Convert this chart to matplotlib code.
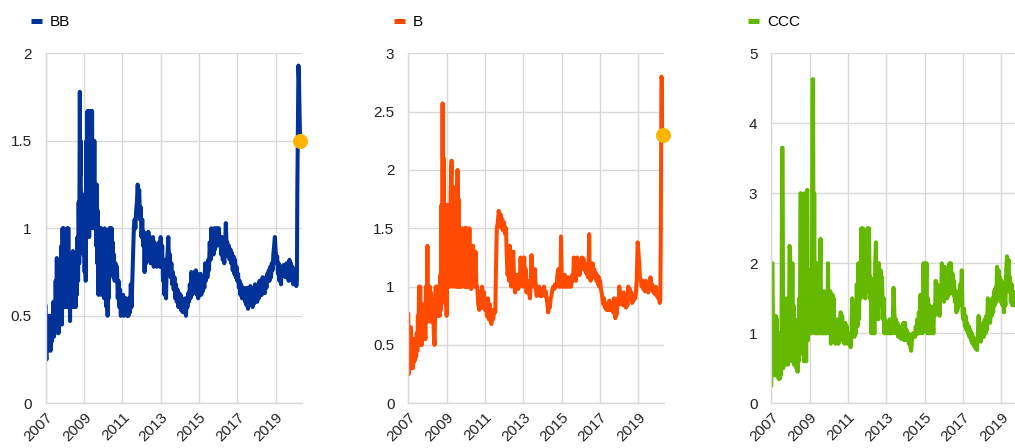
import matplotlib
matplotlib.use("Agg")
import matplotlib.pyplot as plt
from matplotlib.lines import Line2D
from matplotlib.ticker import FuncFormatter

plt.rcParams['font.family'] = ['Liberation Sans', 'DejaVu Sans']
plt.rcParams['font.size'] = 11

# colours (ECB palette)
cs = {"BB": "#003299", "B": "#FF4B00", "CCC": "#65B800"}
dot_c = "#FFB400"

# (decimal year, value)
bb = [
    (2007.00, 0.56), (2007.02, 0.28), (2007.04, 0.25), (2007.06, 0.50), (2007.08, 0.32),
    (2007.10, 0.45), (2007.12, 0.30), (2007.14, 0.50), (2007.16, 0.35), (2007.18, 0.50),
    (2007.20, 0.38), (2007.22, 0.48), (2007.25, 0.30), (2007.28, 0.50), (2007.31, 0.35),
    (2007.34, 0.50), (2007.37, 0.40), (2007.40, 0.58), (2007.43, 0.38), (2007.46, 0.55),
    (2007.49, 0.40), (2007.52, 0.70), (2007.55, 0.45), (2007.58, 0.83), (2007.61, 0.45),
    (2007.64, 0.70), (2007.67, 0.40), (2007.70, 0.60), (2007.73, 0.45), (2007.76, 0.75),
    (2007.79, 0.50), (2007.82, 0.90), (2007.85, 0.45), (2007.88, 1.00), (2007.91, 0.55),
    (2007.94, 1.00), (2007.97, 0.60), (2008.00, 0.85), (2008.03, 0.55), (2008.06, 0.80),
    (2008.09, 0.60), (2008.12, 1.00), (2008.15, 0.55), (2008.18, 1.00), (2008.21, 0.60),
    (2008.24, 0.85), (2008.27, 0.47), (2008.30, 0.80), (2008.33, 0.55), (2008.36, 0.75),
    (2008.39, 0.60), (2008.42, 0.87), (2008.45, 0.55), (2008.48, 0.85), (2008.51, 0.60),
    (2008.54, 0.80), (2008.57, 0.55), (2008.60, 0.85), (2008.63, 0.62), (2008.66, 0.95),
    (2008.69, 0.70), (2008.72, 1.15), (2008.75, 0.80), (2008.78, 1.78), (2008.80, 1.30),
    (2008.82, 1.50), (2008.85, 0.95), (2008.88, 1.20), (2008.91, 0.90), (2008.94, 1.15),
    (2008.97, 0.85), (2009.00, 1.10), (2009.03, 0.75), (2009.06, 1.00), (2009.09, 0.70),
    (2009.12, 1.50), (2009.15, 1.00), (2009.18, 1.67), (2009.21, 1.10), (2009.24, 1.67),
    (2009.27, 0.95), (2009.30, 1.60), (2009.33, 1.00), (2009.36, 1.67), (2009.39, 1.10),
    (2009.42, 1.67), (2009.45, 1.00), (2009.48, 1.50), (2009.51, 1.05), (2009.54, 1.50),
    (2009.57, 1.00), (2009.60, 1.25), (2009.63, 0.90), (2009.66, 1.25), (2009.69, 0.80),
    (2009.72, 1.10), (2009.75, 0.62), (2009.78, 0.95), (2009.81, 0.65), (2009.84, 1.00),
    (2009.87, 0.62), (2009.90, 1.00), (2009.93, 0.70), (2009.96, 0.95), (2009.99, 0.62),
    (2010.02, 0.90), (2010.05, 0.60), (2010.08, 1.00), (2010.11, 0.70), (2010.14, 0.90),
    (2010.17, 0.55), (2010.20, 0.80), (2010.23, 0.50), (2010.26, 0.75), (2010.29, 0.60),
    (2010.32, 1.00), (2010.35, 0.75), (2010.38, 1.00), (2010.41, 0.80), (2010.44, 1.00),
    (2010.47, 0.75), (2010.50, 0.92), (2010.53, 0.72), (2010.56, 0.85), (2010.60, 0.70),
    (2010.64, 0.80), (2010.68, 0.72), (2010.72, 0.78), (2010.76, 0.60), (2010.80, 0.70),
    (2010.84, 0.55), (2010.88, 0.65), (2010.92, 0.50), (2010.96, 0.62), (2011.00, 0.55),
    (2011.04, 0.62), (2011.08, 0.50), (2011.12, 0.60), (2011.16, 0.52), (2011.20, 0.60),
    (2011.24, 0.50), (2011.28, 0.58), (2011.32, 0.50), (2011.36, 0.60), (2011.40, 0.52),
    (2011.44, 0.68), (2011.48, 0.55), (2011.52, 0.70), (2011.56, 0.85), (2011.60, 1.00),
    (2011.64, 1.05), (2011.68, 1.00), (2011.72, 1.10), (2011.76, 1.15), (2011.80, 1.25),
    (2011.84, 1.15), (2011.88, 1.22), (2011.92, 1.05), (2011.96, 1.12), (2012.00, 0.95),
    (2012.04, 1.05), (2012.08, 0.90), (2012.12, 0.98), (2012.16, 0.75), (2012.20, 0.95),
    (2012.24, 0.80), (2012.28, 0.97), (2012.32, 0.82), (2012.36, 0.98), (2012.40, 0.85),
    (2012.44, 0.95), (2012.48, 0.80), (2012.52, 0.92), (2012.56, 0.82), (2012.60, 0.95),
    (2012.64, 0.78), (2012.68, 0.92), (2012.72, 0.80), (2012.76, 0.90), (2012.80, 0.78),
    (2012.84, 0.88), (2012.88, 0.80), (2012.92, 0.92), (2012.96, 0.78), (2013.00, 0.95),
    (2013.04, 0.80), (2013.08, 0.90), (2013.12, 0.70), (2013.16, 0.82), (2013.20, 0.62),
    (2013.24, 0.78), (2013.28, 0.60), (2013.32, 0.80), (2013.36, 0.85), (2013.40, 0.95),
    (2013.44, 0.80), (2013.48, 0.85), (2013.52, 0.72), (2013.56, 0.80), (2013.60, 0.68),
    (2013.64, 0.75), (2013.68, 0.65), (2013.72, 0.72), (2013.76, 0.60), (2013.80, 0.68),
    (2013.84, 0.58), (2013.88, 0.65), (2013.92, 0.55), (2013.96, 0.63), (2014.00, 0.55),
    (2014.04, 0.62), (2014.08, 0.53), (2014.12, 0.60), (2014.16, 0.52), (2014.20, 0.58),
    (2014.24, 0.52), (2014.28, 0.60), (2014.32, 0.50), (2014.36, 0.58), (2014.40, 0.55),
    (2014.44, 0.63), (2014.48, 0.58), (2014.52, 0.68), (2014.56, 0.60), (2014.60, 0.75),
    (2014.64, 0.62), (2014.68, 0.74), (2014.72, 0.63), (2014.76, 0.75), (2014.80, 0.65),
    (2014.84, 0.76), (2014.88, 0.62), (2014.92, 0.74), (2014.96, 0.60), (2015.00, 0.72),
    (2015.04, 0.64), (2015.08, 0.74), (2015.12, 0.62), (2015.16, 0.70), (2015.20, 0.64),
    (2015.24, 0.72), (2015.28, 0.66), (2015.32, 0.80), (2015.36, 0.70), (2015.40, 0.80),
    (2015.44, 0.72), (2015.48, 0.82), (2015.52, 0.76), (2015.56, 0.92), (2015.60, 0.82),
    (2015.64, 1.00), (2015.68, 0.86), (2015.72, 0.98), (2015.76, 0.85), (2015.80, 1.00),
    (2015.84, 0.88), (2015.88, 1.00), (2015.92, 0.90), (2015.96, 1.00), (2016.00, 0.92),
    (2016.04, 1.00), (2016.08, 0.90), (2016.12, 0.95), (2016.16, 0.85), (2016.20, 0.95),
    (2016.24, 0.82), (2016.28, 0.88), (2016.32, 0.80), (2016.36, 0.90), (2016.40, 1.03),
    (2016.44, 0.90), (2016.48, 0.92), (2016.52, 0.84), (2016.56, 0.90), (2016.60, 0.82),
    (2016.64, 0.88), (2016.68, 0.80), (2016.72, 0.86), (2016.76, 0.76), (2016.80, 0.84),
    (2016.84, 0.74), (2016.88, 0.82), (2016.92, 0.72), (2016.96, 0.78), (2017.00, 0.70),
    (2017.04, 0.74), (2017.08, 0.66), (2017.12, 0.70), (2017.16, 0.62), (2017.20, 0.68),
    (2017.24, 0.60), (2017.28, 0.66), (2017.32, 0.60), (2017.36, 0.66), (2017.40, 0.58),
    (2017.44, 0.65), (2017.48, 0.56), (2017.52, 0.66), (2017.56, 0.54), (2017.60, 0.66),
    (2017.64, 0.56), (2017.68, 0.67), (2017.72, 0.58), (2017.76, 0.66), (2017.80, 0.55),
    (2017.84, 0.66), (2017.88, 0.57), (2017.92, 0.68), (2017.96, 0.60), (2018.00, 0.66),
    (2018.04, 0.58), (2018.08, 0.68), (2018.12, 0.60), (2018.16, 0.70), (2018.20, 0.62),
    (2018.24, 0.70), (2018.28, 0.62), (2018.32, 0.72), (2018.36, 0.64), (2018.40, 0.70),
    (2018.44, 0.63), (2018.48, 0.72), (2018.52, 0.66), (2018.56, 0.74), (2018.60, 0.70),
    (2018.64, 0.76), (2018.68, 0.70), (2018.72, 0.78), (2018.76, 0.72), (2018.80, 0.80),
    (2018.84, 0.76), (2018.88, 0.85), (2018.92, 0.90), (2018.96, 0.95), (2019.00, 0.88),
    (2019.04, 0.80), (2019.08, 0.84), (2019.12, 0.74), (2019.16, 0.80), (2019.20, 0.70),
    (2019.24, 0.76), (2019.28, 0.68), (2019.32, 0.78), (2019.36, 0.74), (2019.40, 0.79),
    (2019.44, 0.73), (2019.48, 0.78), (2019.52, 0.72), (2019.56, 0.80), (2019.60, 0.73),
    (2019.64, 0.78), (2019.68, 0.70), (2019.72, 0.82), (2019.76, 0.72), (2019.80, 0.80),
    (2019.84, 0.70), (2019.88, 0.78), (2019.92, 0.68), (2019.96, 0.74), (2020.00, 0.68),
    (2020.04, 0.72), (2020.08, 0.67), (2020.11, 0.70), (2020.13, 1.20), (2020.16, 1.60),
    (2020.19, 1.93), (2020.22, 1.85), (2020.25, 1.65), (2020.28, 1.50),
]

b = [
    (2007.00, 0.77), (2007.02, 0.25), (2007.05, 0.30), (2007.08, 0.60), (2007.11, 0.35),
    (2007.14, 0.65), (2007.17, 0.40), (2007.20, 0.55), (2007.23, 0.30), (2007.26, 0.50),
    (2007.29, 0.35), (2007.32, 0.55), (2007.35, 0.37), (2007.38, 0.50), (2007.41, 0.40),
    (2007.44, 0.60), (2007.47, 0.45), (2007.50, 0.75), (2007.53, 0.50), (2007.56, 1.00),
    (2007.59, 0.50), (2007.62, 1.00), (2007.65, 0.55), (2007.68, 0.75), (2007.71, 0.50),
    (2007.74, 0.85), (2007.77, 0.55), (2007.80, 0.75), (2007.83, 0.60), (2007.86, 0.80),
    (2007.89, 0.55), (2007.92, 1.00), (2007.95, 0.70), (2008.00, 1.35), (2008.03, 0.75),
    (2008.06, 0.95), (2008.09, 0.70), (2008.12, 1.00), (2008.15, 0.75), (2008.18, 0.95),
    (2008.21, 0.70), (2008.24, 0.90), (2008.27, 0.75), (2008.30, 0.80), (2008.33, 0.60),
    (2008.37, 0.50), (2008.40, 0.75), (2008.43, 1.00), (2008.46, 0.75), (2008.49, 1.00),
    (2008.52, 0.80), (2008.55, 1.00), (2008.58, 0.75), (2008.61, 1.00), (2008.64, 0.75),
    (2008.67, 1.10), (2008.70, 0.80), (2008.73, 1.70), (2008.76, 1.00), (2008.79, 2.57),
    (2008.82, 1.20), (2008.85, 2.10), (2008.88, 1.00), (2008.91, 1.70), (2008.94, 0.85),
    (2008.97, 1.30), (2009.00, 0.75), (2009.03, 1.70), (2009.06, 1.00), (2009.09, 1.70),
    (2009.12, 1.10), (2009.15, 1.60), (2009.18, 1.00), (2009.21, 1.80), (2009.26, 2.08),
    (2009.29, 1.10), (2009.32, 1.85), (2009.35, 1.00), (2009.38, 1.70), (2009.41, 1.05),
    (2009.44, 1.85), (2009.47, 1.00), (2009.50, 1.50), (2009.53, 1.00), (2009.57, 2.00),
    (2009.60, 1.00), (2009.63, 1.75), (2009.66, 1.00), (2009.69, 1.40), (2009.72, 1.00),
    (2009.75, 1.35), (2009.78, 1.00), (2009.81, 1.50), (2009.84, 1.05), (2009.87, 1.30),
    (2009.90, 1.00), (2009.94, 1.50), (2009.97, 1.00), (2010.00, 1.50), (2010.03, 1.00),
    (2010.06, 1.50), (2010.09, 1.00), (2010.12, 1.30), (2010.15, 1.00), (2010.19, 1.50),
    (2010.22, 1.00), (2010.25, 1.25), (2010.28, 0.98), (2010.31, 1.15), (2010.34, 1.00),
    (2010.38, 1.35), (2010.41, 1.05), (2010.44, 1.25), (2010.47, 1.00), (2010.51, 1.30),
    (2010.55, 1.00), (2010.60, 1.00), (2010.65, 0.85), (2010.70, 0.80), (2010.75, 0.95),
    (2010.80, 0.82), (2010.85, 1.00), (2010.90, 0.82), (2010.95, 0.95), (2011.00, 0.80),
    (2011.05, 0.85), (2011.10, 0.75), (2011.15, 0.90), (2011.20, 0.72), (2011.25, 0.85),
    (2011.30, 0.70), (2011.34, 0.68), (2011.38, 0.80), (2011.43, 0.72), (2011.48, 0.80),
    (2011.54, 0.78), (2011.58, 1.20), (2011.62, 1.50), (2011.67, 1.55), (2011.72, 1.65),
    (2011.77, 1.58), (2011.82, 1.62), (2011.86, 1.50), (2011.90, 1.58), (2011.95, 1.48),
    (2012.00, 1.55), (2012.05, 1.45), (2012.10, 1.50), (2012.14, 1.25), (2012.18, 1.10),
    (2012.22, 1.15), (2012.26, 1.05), (2012.30, 1.35), (2012.34, 1.10), (2012.38, 1.00),
    (2012.43, 1.20), (2012.48, 1.30), (2012.52, 1.05), (2012.57, 0.95), (2012.61, 1.10),
    (2012.65, 1.00), (2012.70, 1.10), (2012.74, 0.98), (2012.78, 1.10), (2012.82, 1.05),
    (2012.86, 1.25), (2012.90, 1.10), (2012.94, 1.20), (2012.97, 1.00), (2013.01, 1.15),
    (2013.05, 1.25), (2013.09, 1.05), (2013.13, 1.15), (2013.17, 0.95), (2013.21, 1.05),
    (2013.26, 1.00), (2013.30, 0.95), (2013.35, 0.90), (2013.39, 1.05), (2013.43, 1.27),
    (2013.47, 1.10), (2013.52, 1.00), (2013.56, 1.10), (2013.61, 1.15), (2013.65, 1.00),
    (2013.70, 0.92), (2013.74, 1.00), (2013.78, 0.95), (2013.83, 1.00), (2013.87, 0.92),
    (2013.91, 0.98), (2013.96, 0.92), (2014.00, 0.98), (2014.04, 0.94), (2014.08, 1.00),
    (2014.12, 0.92), (2014.17, 0.96), (2014.22, 0.90), (2014.26, 0.85), (2014.30, 0.78),
    (2014.34, 0.85), (2014.38, 0.82), (2014.43, 0.90), (2014.47, 0.92), (2014.52, 0.98),
    (2014.57, 1.00), (2014.62, 0.98), (2014.66, 1.02), (2014.70, 1.00), (2014.74, 1.00),
    (2014.78, 1.10), (2014.83, 1.15), (2014.87, 1.00), (2014.91, 1.05), (2014.94, 1.00),
    (2014.97, 1.43), (2015.01, 1.05), (2015.05, 1.00), (2015.09, 1.08), (2015.13, 1.00),
    (2015.17, 1.10), (2015.21, 1.00), (2015.26, 1.05), (2015.30, 1.00), (2015.34, 1.08),
    (2015.38, 1.00), (2015.43, 1.05), (2015.47, 1.00), (2015.50, 1.00), (2015.55, 1.10),
    (2015.60, 1.05), (2015.64, 1.25), (2015.68, 1.10), (2015.72, 1.20), (2015.75, 1.05),
    (2015.79, 1.15), (2015.82, 1.25), (2015.86, 1.12), (2015.90, 1.20), (2015.94, 1.10),
    (2015.98, 1.22), (2016.02, 1.15), (2016.06, 1.25), (2016.10, 1.18), (2016.14, 1.24),
    (2016.18, 1.15), (2016.22, 1.20), (2016.26, 1.12), (2016.30, 1.15), (2016.34, 1.10),
    (2016.38, 1.08), (2016.41, 1.15), (2016.44, 1.45), (2016.47, 1.10), (2016.51, 1.05),
    (2016.55, 1.15), (2016.58, 1.10), (2016.62, 1.20), (2016.66, 1.08), (2016.70, 1.15),
    (2016.74, 1.10), (2016.78, 1.12), (2016.82, 1.05), (2016.86, 1.10), (2016.90, 1.02),
    (2016.94, 1.08), (2016.97, 1.00), (2017.01, 1.05), (2017.05, 0.98), (2017.09, 0.95),
    (2017.13, 0.90), (2017.17, 0.85), (2017.21, 0.90), (2017.26, 0.82), (2017.30, 0.85),
    (2017.35, 0.80), (2017.40, 0.85), (2017.45, 0.80), (2017.49, 0.88), (2017.53, 0.80),
    (2017.57, 0.86), (2017.61, 0.80), (2017.65, 0.85), (2017.69, 0.78), (2017.73, 0.90),
    (2017.77, 0.78), (2017.80, 0.73), (2017.84, 0.78), (2017.87, 0.76), (2017.90, 0.82),
    (2017.94, 0.90), (2017.98, 0.85), (2018.01, 1.00), (2018.05, 0.88), (2018.09, 0.95),
    (2018.13, 0.85), (2018.17, 0.92), (2018.21, 0.84), (2018.25, 0.95), (2018.29, 0.85),
    (2018.32, 0.90), (2018.36, 0.82), (2018.40, 0.88), (2018.44, 0.84), (2018.48, 1.00),
    (2018.52, 0.92), (2018.56, 0.98), (2018.60, 0.90), (2018.64, 0.95), (2018.68, 0.86),
    (2018.72, 0.92), (2018.76, 0.88), (2018.80, 0.92), (2018.84, 0.90), (2018.88, 0.95),
    (2018.92, 1.05), (2018.97, 1.38), (2019.01, 1.30), (2019.05, 1.20), (2019.09, 1.08),
    (2019.14, 1.05), (2019.18, 1.00), (2019.22, 1.05), (2019.26, 0.98), (2019.30, 1.02),
    (2019.35, 0.96), (2019.40, 1.05), (2019.44, 0.98), (2019.48, 1.02), (2019.52, 0.95),
    (2019.56, 1.00), (2019.60, 0.98), (2019.64, 1.08), (2019.68, 1.00), (2019.72, 1.02),
    (2019.76, 0.96), (2019.80, 1.00), (2019.84, 0.94), (2019.88, 0.98), (2019.92, 1.00),
    (2019.96, 0.92), (2020.00, 0.96), (2020.04, 0.90), (2020.08, 0.94), (2020.12, 0.86),
    (2020.15, 0.88), (2020.18, 1.50), (2020.21, 2.80), (2020.24, 2.78), (2020.26, 2.55),
    (2020.28, 2.30),
]

# CCC: the right end of this panel falls outside the picture
ccc = [
    (2007.00, 0.25), (2007.02, 2.00), (2007.06, 2.00), (2007.08, 1.20), (2007.10, 0.50),
    (2007.12, 1.00), (2007.14, 0.40), (2007.17, 0.80), (2007.20, 0.40), (2007.23, 1.25),
    (2007.26, 0.45), (2007.29, 1.20), (2007.32, 0.40), (2007.35, 0.70), (2007.38, 0.35),
    (2007.41, 0.60), (2007.44, 0.35), (2007.47, 1.00), (2007.50, 0.40), (2007.53, 0.60),
    (2007.56, 3.65), (2007.59, 3.65), (2007.62, 0.50), (2007.65, 1.50), (2007.68, 0.55),
    (2007.71, 1.20), (2007.74, 0.60), (2007.77, 1.50), (2007.80, 0.60), (2007.83, 1.00),
    (2007.86, 0.55), (2007.89, 1.30), (2007.92, 0.65), (2007.95, 2.25), (2007.98, 2.20),
    (2008.01, 0.70), (2008.04, 1.50), (2008.07, 0.60), (2008.10, 2.00), (2008.13, 0.65),
    (2008.16, 1.40), (2008.19, 0.55), (2008.22, 1.20), (2008.25, 0.60), (2008.28, 1.00),
    (2008.31, 0.50), (2008.34, 0.90), (2008.37, 0.45), (2008.40, 1.20), (2008.43, 0.60),
    (2008.46, 1.50), (2008.49, 0.70), (2008.52, 3.00), (2008.55, 3.00), (2008.58, 0.80),
    (2008.61, 2.50), (2008.64, 0.75), (2008.67, 2.00), (2008.70, 0.60), (2008.73, 3.00),
    (2008.76, 0.70), (2008.79, 1.80), (2008.82, 0.60), (2008.85, 3.00), (2008.88, 3.05),
    (2008.91, 0.90), (2008.94, 1.90), (2008.97, 1.00), (2009.00, 1.60), (2009.03, 1.00),
    (2009.06, 1.80), (2009.09, 1.00), (2009.12, 1.50), (2009.15, 4.63), (2009.18, 4.63),
    (2009.21, 1.20), (2009.24, 3.00), (2009.27, 1.00), (2009.30, 2.00), (2009.33, 1.00),
    (2009.36, 1.70), (2009.39, 1.00), (2009.42, 2.00), (2009.45, 1.00), (2009.48, 1.50),
    (2009.51, 1.00), (2009.54, 1.80), (2009.57, 2.35), (2009.60, 1.00), (2009.63, 1.60),
    (2009.66, 1.00), (2009.69, 1.50), (2009.72, 1.00), (2009.75, 1.60), (2009.78, 1.00),
    (2009.81, 1.40), (2009.84, 1.00), (2009.87, 1.50), (2009.90, 1.00), (2009.93, 1.30),
    (2009.96, 2.00), (2009.99, 1.00), (2010.02, 1.50), (2010.05, 1.00), (2010.08, 1.60),
    (2010.11, 0.85), (2010.14, 1.40), (2010.17, 1.00), (2010.20, 1.55), (2010.23, 1.00),
    (2010.26, 1.50), (2010.29, 0.95), (2010.32, 1.20), (2010.35, 0.85), (2010.38, 1.10),
    (2010.42, 0.95), (2010.46, 1.20), (2010.50, 0.85), (2010.54, 1.10), (2010.58, 0.90),
    (2010.62, 1.30), (2010.66, 1.00), (2010.70, 1.25), (2010.74, 0.90), (2010.78, 1.10),
    (2010.82, 0.85), (2010.86, 1.15), (2010.90, 0.90), (2010.94, 1.10), (2010.98, 0.85),
    (2011.02, 1.00), (2011.06, 0.85), (2011.10, 0.95), (2011.14, 0.80), (2011.18, 0.95),
    (2011.22, 1.50), (2011.26, 1.00), (2011.30, 1.40), (2011.34, 0.95), (2011.38, 1.20),
    (2011.42, 1.00), (2011.46, 1.70), (2011.50, 1.10), (2011.54, 2.00), (2011.58, 1.20),
    (2011.62, 2.00), (2011.66, 1.50), (2011.70, 2.50), (2011.74, 1.60), (2011.78, 2.50),
    (2011.82, 1.70), (2011.86, 2.20), (2011.90, 1.50), (2011.94, 2.40), (2011.98, 1.60),
    (2012.02, 2.50), (2012.06, 1.80), (2012.10, 2.50), (2012.14, 1.50), (2012.18, 1.80),
    (2012.22, 1.00), (2012.26, 1.50), (2012.30, 1.00), (2012.34, 1.60), (2012.38, 1.00),
    (2012.42, 2.00), (2012.46, 2.30), (2012.50, 1.50), (2012.54, 1.80), (2012.58, 1.20),
    (2012.62, 2.00), (2012.66, 1.50), (2012.70, 1.90), (2012.74, 1.40), (2012.78, 1.80),
    (2012.82, 1.20), (2012.86, 1.50), (2012.90, 1.00), (2012.94, 1.20), (2012.98, 1.00),
    (2013.02, 1.10), (2013.06, 1.00), (2013.10, 1.15), (2013.14, 1.00), (2013.18, 1.20),
    (2013.22, 1.00), (2013.26, 1.10), (2013.30, 1.00), (2013.34, 1.25), (2013.38, 1.65),
    (2013.42, 1.30), (2013.46, 1.00), (2013.50, 1.20), (2013.54, 1.00), (2013.58, 1.15),
    (2013.62, 0.95), (2013.66, 1.10), (2013.70, 0.95), (2013.74, 1.05), (2013.78, 0.92),
    (2013.82, 1.10), (2013.86, 0.95), (2013.90, 1.15), (2013.94, 0.90), (2013.98, 1.15),
    (2014.02, 0.95), (2014.06, 1.05), (2014.10, 0.90), (2014.14, 1.00), (2014.18, 0.85),
    (2014.22, 0.98), (2014.26, 0.80), (2014.30, 0.75), (2014.34, 0.90), (2014.38, 1.00),
    (2014.42, 0.95), (2014.46, 1.00), (2014.50, 0.95), (2014.54, 1.10), (2014.58, 0.98),
    (2014.62, 1.20), (2014.66, 1.00), (2014.70, 1.30), (2014.74, 1.00), (2014.78, 1.55),
    (2014.82, 1.20), (2014.86, 1.50), (2014.90, 1.00), (2014.94, 2.00), (2014.98, 1.50),
    (2015.02, 2.00), (2015.06, 1.40), (2015.10, 2.00), (2015.14, 1.00), (2015.18, 1.50),
    (2015.22, 1.00), (2015.26, 1.40), (2015.30, 1.00), (2015.34, 1.30), (2015.38, 1.00),
    (2015.42, 1.20), (2015.46, 1.00), (2015.50, 1.40), (2015.54, 1.25), (2015.58, 1.75),
    (2015.62, 1.40), (2015.66, 1.70), (2015.70, 1.30), (2015.74, 1.50), (2015.78, 1.25),
    (2015.82, 1.60), (2015.86, 1.50), (2015.90, 2.00), (2015.94, 1.50), (2015.98, 1.80),
    (2016.02, 1.45), (2016.06, 1.95), (2016.10, 1.55), (2016.14, 1.80), (2016.18, 1.50),
    (2016.22, 1.70), (2016.26, 1.55), (2016.30, 2.00), (2016.34, 1.60), (2016.38, 2.00),
    (2016.42, 1.70), (2016.46, 1.85), (2016.50, 1.55), (2016.54, 1.75), (2016.58, 1.45),
    (2016.62, 1.60), (2016.66, 1.30), (2016.70, 1.50), (2016.74, 1.35), (2016.78, 1.60),
    (2016.82, 1.40), (2016.86, 1.70), (2016.90, 1.50), (2016.94, 1.90), (2016.98, 1.30),
    (2017.02, 1.20), (2017.06, 1.35), (2017.10, 1.10), (2017.14, 1.25), (2017.18, 1.05),
    (2017.22, 1.15), (2017.26, 1.00), (2017.30, 1.10), (2017.34, 0.95), (2017.38, 1.05),
    (2017.42, 0.90), (2017.46, 1.00), (2017.50, 0.85), (2017.54, 0.95), (2017.58, 0.82),
    (2017.62, 0.90), (2017.66, 0.78), (2017.70, 0.85), (2017.74, 0.76), (2017.78, 1.00),
    (2017.82, 1.25), (2017.86, 0.90), (2017.90, 1.05), (2017.94, 0.88), (2017.98, 1.10),
    (2018.02, 0.95), (2018.06, 1.15), (2018.10, 0.95), (2018.14, 1.20), (2018.18, 1.00),
    (2018.22, 1.25), (2018.26, 1.05), (2018.30, 1.50), (2018.34, 1.20), (2018.38, 1.35),
    (2018.42, 1.15), (2018.46, 1.40), (2018.50, 1.25), (2018.54, 1.50), (2018.58, 1.30),
    (2018.62, 1.60), (2018.66, 1.40), (2018.70, 1.65), (2018.74, 1.45), (2018.78, 1.95),
    (2018.82, 1.70), (2018.86, 1.90), (2018.90, 1.50), (2018.94, 1.80), (2018.98, 1.45),
    (2019.02, 1.75), (2019.06, 1.40), (2019.10, 1.60), (2019.14, 1.30), (2019.18, 1.50),
    (2019.22, 1.40), (2019.26, 1.90), (2019.30, 2.10), (2019.34, 1.80), (2019.38, 2.05),
    (2019.42, 1.60), (2019.46, 1.80), (2019.50, 1.45), (2019.54, 1.70), (2019.58, 1.40),
    (2019.62, 1.60), (2019.66, 1.40), (2019.70, 1.55), (2019.74, 1.40), (2019.78, 1.50),
]

# latest observation markers
dot_bb = (2020.28, 1.5)
dot_b = (2020.28, 2.3)

panels = [
    ("BB", bb, 2.0, 0.5, dot_bb),
    ("B", b, 3.0, 0.5, dot_b),
    ("CCC", ccc, 5.0, 1.0, None),
]

W, H = 1015, 448
fig = plt.figure(figsize=(W / 100, H / 100), dpi=100)

# axes boxes in pixels
ax_left = [45.7, 408.3, 771.3]
leg_left = [31, 394, 748]
ax_w = 256.0
ax_top, ax_bot = 53.3, 403.3

grid_c = "#d9d9d9"
for i, (name, pts, ymax, ystep, dot) in enumerate(panels):
    t, v = zip(*pts)
    ax = fig.add_axes([ax_left[i] / W, (H - ax_bot) / H, ax_w / W, (ax_bot - ax_top) / H])
    ax.plot(t, v, color=cs[name], lw=2.9, solid_joinstyle="round", solid_capstyle="round")
    if dot is not None:
        ax.plot(dot[0], dot[1], "o", color=dot_c, ms=10.8, mec="none", zorder=5, clip_on=False)

    ax.set_xlim(2007, 2020.36)
    ax.set_ylim(0, ymax)
    yt = [k * ystep for k in range(int(round(ymax / ystep)) + 1)]
    ax.set_yticks(yt)
    ax.yaxis.set_major_formatter(FuncFormatter(lambda x, p: f"{x:g}"))
    xt = list(range(2007, 2021, 2))
    ax.set_xticks(xt)
    ax.set_xticklabels([str(x) for x in xt], rotation=45, ha="right", va="top",
                       rotation_mode="anchor")
    ax.tick_params(axis="both", length=0, colors="#222222", labelsize=11)
    ax.tick_params(axis="y", pad=10)
    ax.tick_params(axis="x", pad=5)
    ax.grid(True, color=grid_c, lw=1)
    ax.set_axisbelow(True)
    for s in ["top", "right"]:
        ax.spines[s].set_visible(False)
    for s in ["left", "bottom"]:
        ax.spines[s].set_color(grid_c)
        ax.spines[s].set_linewidth(1)

    handle = Line2D([], [], color=cs[name], lw=3.6, solid_capstyle="butt")
    fig.legend([handle], [name], loc="center left",
               bbox_to_anchor=(leg_left[i] / W, (H - 22.3) / H),
               frameon=False, fontsize=11, handlelength=0.75, handletextpad=0.5,
               borderpad=0, borderaxespad=0)

fig.savefig("out.png", dpi=100)
